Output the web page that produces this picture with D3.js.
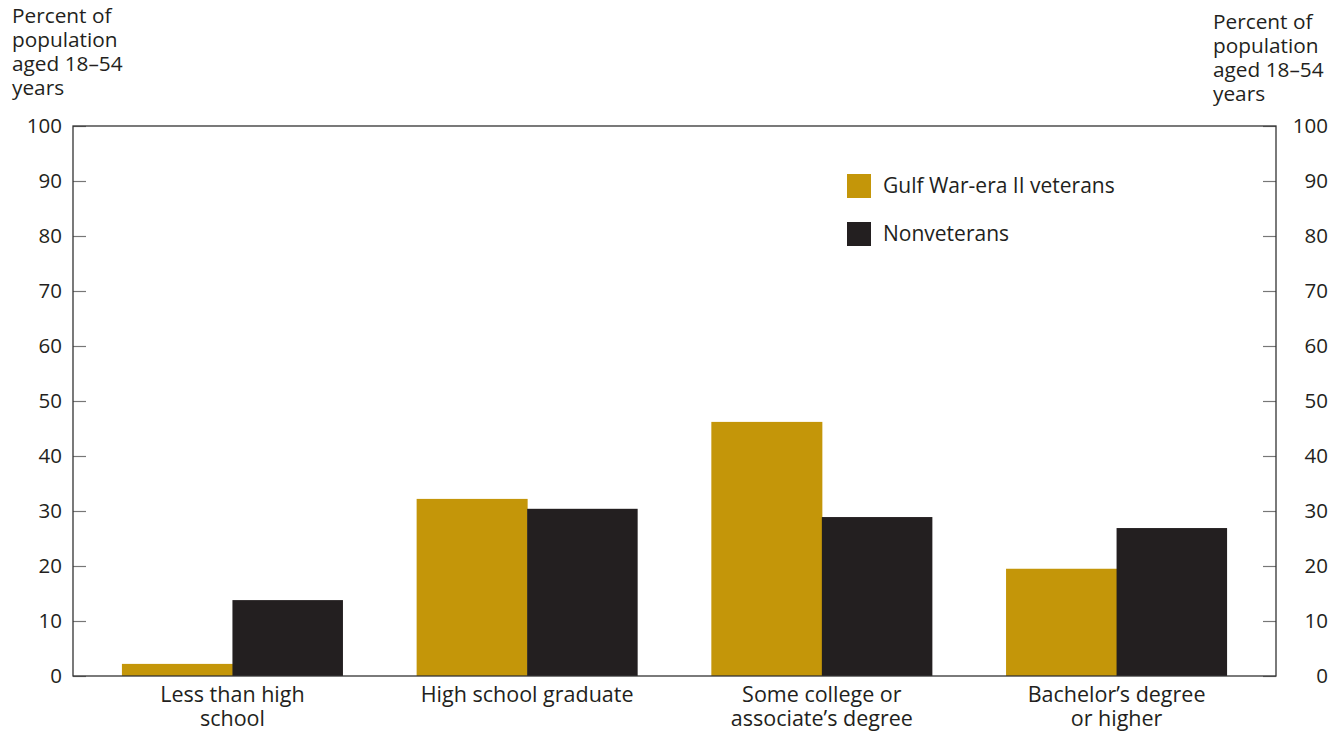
<!DOCTYPE html>
<html><head><meta charset="utf-8">
<script src="https://cdn.jsdelivr.net/npm/d3@7"></script>
<style>body{margin:0;background:#fff}text{font-family:"Open Sans",sans-serif;fill:#231F20}</style>
</head><body><svg id="c" width="1342" height="733"></svg>
<script>
const categories = [["Less than high","school"],["High school graduate"],["Some college or","associate’s degree"],["Bachelor’s degree","or higher"]];
const seriesNames = ["Gulf War-era II veterans","Nonveterans"];
const gulfValues = [2.2, 32.2, 46.2, 19.5];
const nonvetValues = [13.8, 30.4, 28.9, 26.9];
const yTicks = [0,10,20,30,40,50,60,70,80,90,100];
const titleLines = ["Percent of","population","aged 18–54","years"];
const colors = ["#C49609","#231F20"];

const svg = d3.select("#c");
const L=73,R=1276,T=126,B=676;
const x = d3.scaleBand().domain(d3.range(categories.length)).range([L,R]).paddingInner(0.25).paddingOuter(0.166);
const xs = d3.scaleBand().domain([0,1]).range([0,x.bandwidth()]);
const y = d3.scaleLinear().domain([0,100]).range([B,T]);

// bars
const series=[gulfValues,nonvetValues];
series.forEach((vals,si)=>{
  svg.append("g").selectAll("rect").data(vals).join("rect")
    .attr("x",(d,i)=>x(i)+xs(si)).attr("width",xs.bandwidth()+(si==0?0.5:0))
    .attr("y",d=>y(d)).attr("height",d=>B-y(d)).attr("fill",colors[si]);
});

// axes
const yl = d3.axisLeft(y).tickValues(yTicks).tickSize(-13).tickPadding(24);
const yr = d3.axisRight(y).tickValues(yTicks).tickSize(-13).tickPadding(24);
const gl = svg.append("g").attr("transform",`translate(${L},0)`).call(yl);
const gr = svg.append("g").attr("transform",`translate(${R},0)`).call(yr);
[gl,gr].forEach(g=>{
  g.select(".domain").remove();
  g.selectAll(".tick line").attr("stroke","#777").attr("stroke-width",1.2);
  g.selectAll(".tick text").style("font-size","20.5px").attr("fill","#231F20").attr("font-family",null);
});
gl.selectAll(".tick text").attr("x",-11);
gr.selectAll(".tick text").attr("text-anchor","end").attr("x",52);
svg.append("rect").attr("x",L).attr("y",T).attr("width",R-L).attr("height",B-T)
  .attr("fill","none").attr("stroke","#333").attr("stroke-width",1.3);

// category labels
categories.forEach((lines,i)=>{
  lines.forEach((ln,j)=>{
    svg.append("text").attr("text-anchor","middle").style("font-size","21.5px")
      .attr("x",x(i)+x.bandwidth()/2).attr("y",702+j*24).text(ln);
  });
});

// titles
[[12,23],[1213,29]].forEach(([tx,ty])=>{
  titleLines.forEach((ln,j)=>{
    svg.append("text").attr("x",tx).attr("y",ty+j*24).style("font-size","20.8px").text(ln);
  });
});

// legend
const lg = svg.append("g").selectAll("g").data(seriesNames).join("g")
  .attr("transform",(d,i)=>`translate(847,${174+i*48})`);
lg.append("rect").attr("width",24).attr("height",24).attr("fill",(d,i)=>colors[i]);
lg.append("text").attr("x",36).attr("y",19).style("font-size","21px").text(d=>d);
</script></body></html>
